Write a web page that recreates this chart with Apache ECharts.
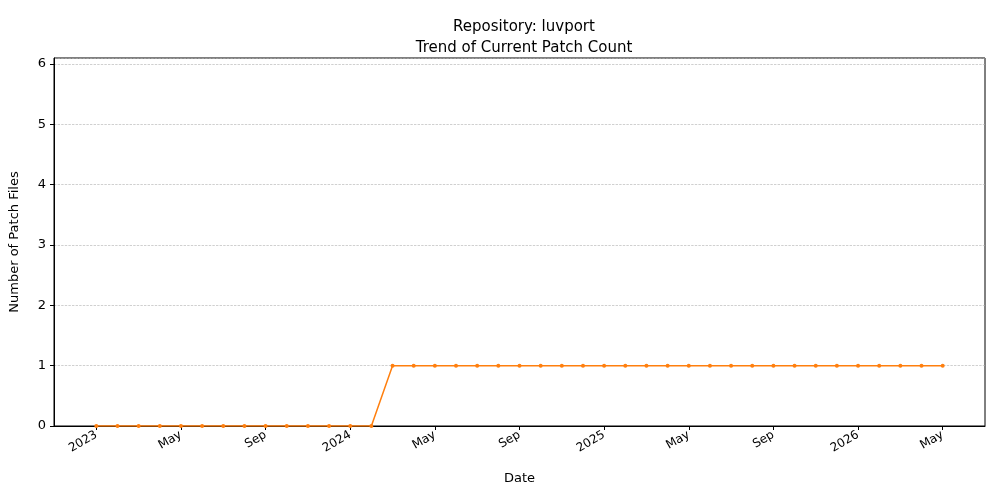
<!DOCTYPE html>
<html>
<head>
<meta charset="utf-8">
<script src="https://cdn.jsdelivr.net/npm/echarts@6/dist/echarts.min.js"></script>
<style>
    html, body { margin: 0; padding: 0; background: #fff; }
    #main { width: 1000px; height: 500px; }
</style>
</head>
<body>
<div id="main"></div>
<script>
    // months counted from Jan 2023 (index 0) to May 2026 (index 40)
    var monthIndex = [];
    for (var i = 0; i <= 40; i++) monthIndex.push(i);
    var patchCount = [0,0,0,0,0,0,0,0,0,0,0,0,0,0,
        1,1,1,1,1,1,1,1,1,1,1,1,1,1,1,1,1,1,1,1,1,1,1,1,1,1,1];
    var tickIndex = [0, 4, 8, 12, 16, 20, 24, 28, 32, 36, 40];
    var tickLabels = ['2023', 'May', 'Sep', '2024', 'May', 'Sep', '2025', 'May', 'Sep', '2026', 'May'];

    var points = monthIndex.map(function (m, k) { return [m, patchCount[k]]; });
    var font = 'DejaVu Sans';

    var myChart = echarts.init(document.getElementById('main'));
    var option = {
        animation: false,
        textStyle: { fontFamily: font },
        title: {
            text: 'Repository: luvport\nTrend of Current Patch Count',
            left: 519, top: 12, textAlign: 'center',
            textStyle: { fontFamily: font, fontSize: 15, fontWeight: 'normal', color: '#000', lineHeight: 21 }
        },
        grid: { left: 54, right: 15, top: 58, bottom: 74, show: true, borderColor: '#000', borderWidth: 1 },
        xAxis: {
            type: 'value', min: -2, max: 42,
            name: 'Date', nameLocation: 'middle', nameGap: 46,
            nameTextStyle: { color: '#000', fontSize: 13 },
            axisLine: { onZero: false, lineStyle: { color: '#000' } },
            splitLine: { show: false },
            axisTick: { customValues: tickIndex, length: 4, lineStyle: { color: '#000' } },
            axisLabel: {
                customValues: tickIndex, rotate: 30, color: '#000', fontSize: 12, margin: 8,
                formatter: function (v) { return tickLabels[tickIndex.indexOf(v)]; }
            }
        },
        yAxis: {
            type: 'value', min: 0, max: 6.1, interval: 1,
            name: 'Number of Patch Files', nameLocation: 'middle', nameGap: 33,
            nameTextStyle: { color: '#000', fontSize: 13 },
            axisLine: { show: true, onZero: false, lineStyle: { color: '#000' } },
            axisTick: { show: true, length: 4, lineStyle: { color: '#000' } },
            axisLabel: { color: '#000', fontSize: 13, showMaxLabel: false },
            splitLine: { lineStyle: { color: '#b0b0b0', type: 'dashed', width: 0.6 } }
        },
        series: [{
            type: 'line', data: points,
            symbol: 'circle', symbolSize: 4,
            lineStyle: { color: '#ff7f0e', width: 1.5 },
            itemStyle: { color: '#ff7f0e' }
        }]
    };
    myChart.setOption(option);
</script>
</body>
</html>
